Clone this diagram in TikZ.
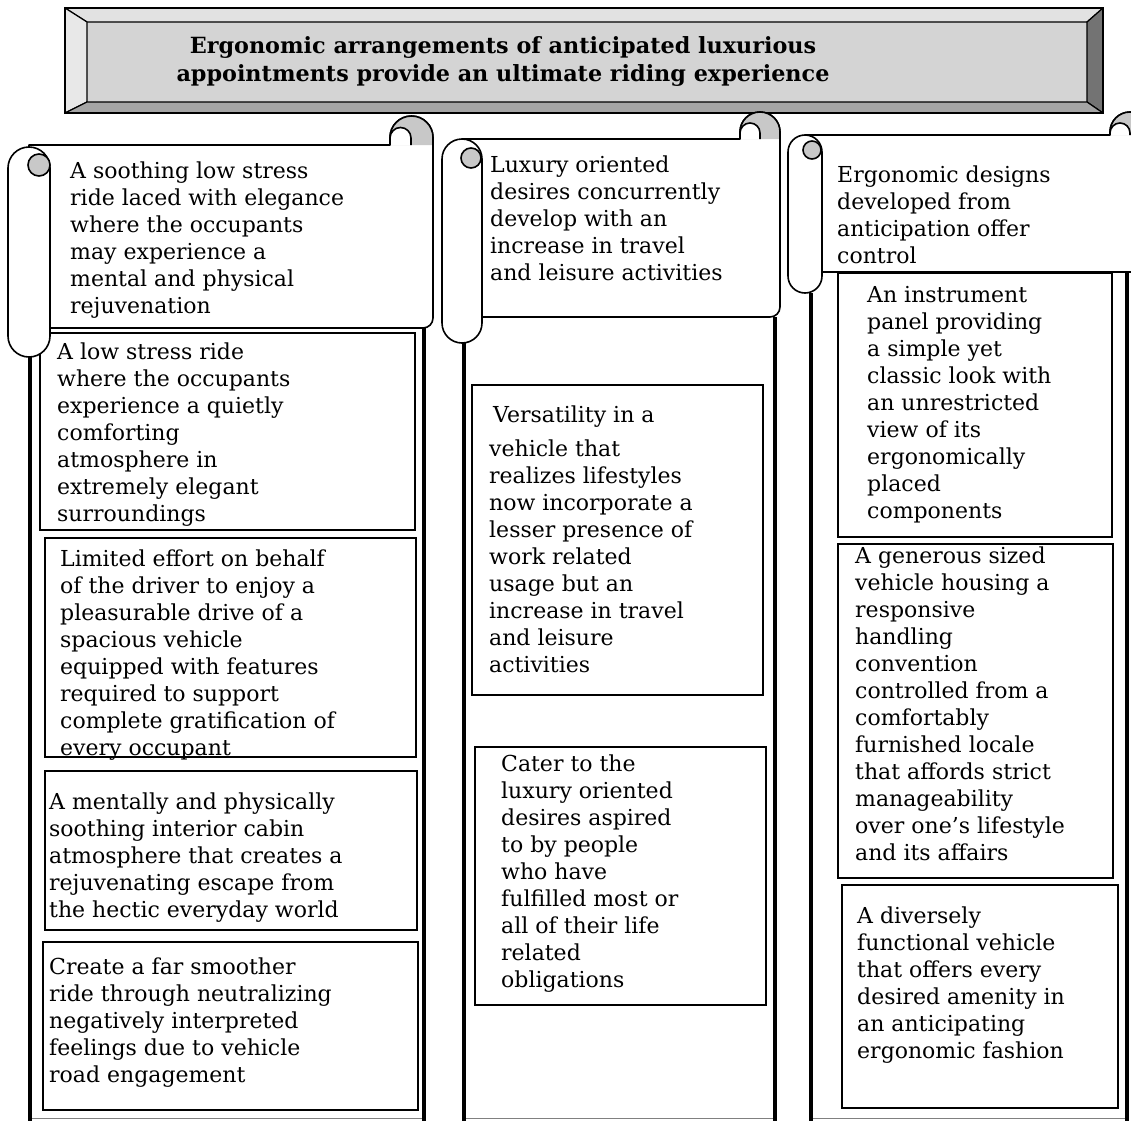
\documentclass[tikz,border=0pt]{standalone}
\usepackage{fontspec}
\setmainfont{DejaVu Serif}
\definecolor{curlgray}{RGB}{200,200,200}
\definecolor{faceg}{RGB}{212,212,212}
\definecolor{bevtop}{RGB}{226,226,226}
\definecolor{bevleft}{RGB}{232,232,232}
\definecolor{bevbot}{RGB}{165,165,165}
\definecolor{bevright}{RGB}{115,115,115}
\newcommand\bodyfnt{\fontsize{22}{27}\selectfont}
\newcommand\titlefnt{\fontsize{22.3}{28}\selectfont\bfseries}
\newcommand\fl{\rule{0pt}{20pt}}
\begin{document}
\begin{tikzpicture}[x=1pt,y=-1pt,
  scrollline/.style={line width=1.6pt, line join=round},
  frameline/.style={line width=3.6pt},
  itembox/.style={draw, line width=1.6pt},
  txt/.style={anchor=north west, inner sep=0pt, align=left, font=\bodyfnt},
  bev/.style={draw, line width=1.2pt, line join=round}]
\useasboundingbox (0,0) rectangle (1131,1120);

% ---- title banner ----
\fill[faceg] (87,22) rectangle (1087,102);
\filldraw[bev, fill=bevtop] (65,8) -- (1103,8) -- (1087,22) -- (87,22) -- cycle;
\filldraw[bev, fill=bevleft] (65,8) -- (87,22) -- (87,102) -- (65,113) -- cycle;
\filldraw[bev, fill=bevright] (1103,8) -- (1103,113) -- (1087,102) -- (1087,22) -- cycle;
\filldraw[bev, fill=bevbot] (65,113) -- (87,102) -- (1087,102) -- (1103,113) -- cycle;
\draw[line width=1.4pt] (65,8) rectangle (1103,113);
\node[anchor=north, inner sep=0pt, align=center, font=\titlefnt] (title) at (503,33)
  {\fl Ergonomic arrangements of anticipated luxurious\\appointments provide an ultimate riding experience};

% ---- frames ----
\draw[gray, line width=1pt] (30,1118) -- (424,1118);
\draw[gray, line width=1pt] (464,1118) -- (775,1118);
\draw[gray, line width=1pt] (811,1118) -- (1127,1118);
\draw[frameline] (30,357) -- (30,1122);
\draw[frameline] (424,328) -- (424,1122);
\draw[frameline] (464,343) -- (464,1122);
\draw[frameline] (775,317) -- (775,1122);
\draw[frameline] (811,293) -- (811,1122);
\draw[frameline] (1127,272) -- (1127,1122);

% ---- item boxes ----
\draw[itembox] (40,333) rectangle (415,530);
\draw[itembox] (45,538) rectangle (416,757);
\draw[itembox] (45,771) rectangle (417,930);
\draw[itembox] (43,942) rectangle (418,1110);
\draw[itembox] (472,385) rectangle (763,695);
\draw[itembox] (475,747) rectangle (766,1005);
\draw[itembox] (838,273) rectangle (1112,537);
\draw[itembox] (838,544) rectangle (1113,878);
\draw[itembox] (842,885) rectangle (1118,1108);

% ---- scroll 1 ----
\draw[scrollline, fill=white] (29,145) -- (390,145) -- (390,137.5)
  arc[start angle=180, end angle=360, radius=21.5] [rounded corners=10pt] -- (433,328) -- (29,328) [sharp corners] -- cycle;
\fill[curlgray] (390,145) -- (390,137.5) arc[start angle=180, end angle=360, radius=21.5] -- (433,145) -- cycle;
\draw[scrollline] (390,145) -- (390,137.5) arc[start angle=180, end angle=360, radius=21.5] -- (433,146);
\draw[scrollline, fill=white] (390,145) -- (390,138) arc[start angle=180, end angle=360, radius=10.5] -- (411,145);
\draw[scrollline, fill=white] (50,168) -- (50,336) arc[start angle=0, end angle=180, radius=21] -- (8,168)
  arc[start angle=180, end angle=360, radius=21] -- cycle;
\draw[scrollline, fill=curlgray] (39,165) circle[radius=11];

% ---- scroll 2 ----
\draw[scrollline, fill=white] (462,139) -- (740,139) -- (740,132)
  arc[start angle=180, end angle=360, radius=20] [rounded corners=10pt] -- (780,317) -- (462,317) [sharp corners] -- cycle;
\fill[curlgray] (740,139) -- (740,132) arc[start angle=180, end angle=360, radius=20] -- (780,139) -- cycle;
\draw[scrollline] (740,139) -- (740,132) arc[start angle=180, end angle=360, radius=20] -- (780,140);
\draw[scrollline, fill=white] (740,139) -- (740,133) arc[start angle=180, end angle=360, radius=10] -- (760,139);
\draw[scrollline, fill=white] (482,159) -- (482,323) arc[start angle=0, end angle=180, radius=20] -- (442,159)
  arc[start angle=180, end angle=360, radius=20] -- cycle;
\draw[scrollline, fill=curlgray] (471,158) circle[radius=10];

% ---- scroll 3 ----
\draw[scrollline, fill=white] (805,135) -- (1110,135) -- (1110,132)
  arc[start angle=180, end angle=360, radius=20] [rounded corners=10pt] -- (1150,272) -- (805,272) [sharp corners] -- cycle;
\fill[curlgray] (1110,135) -- (1110,132) arc[start angle=180, end angle=360, radius=20] -- (1150,135) -- cycle;
\draw[scrollline] (1110,135) -- (1110,132) arc[start angle=180, end angle=360, radius=20] -- (1150,136);
\draw[scrollline, fill=white] (1110,135) -- (1110,133) arc[start angle=180, end angle=360, radius=10] -- (1130,135);
\draw[scrollline, fill=white] (822,152) -- (822,276) arc[start angle=0, end angle=180, radius=17] -- (788,152)
  arc[start angle=180, end angle=360, radius=17] -- cycle;
\draw[scrollline, fill=curlgray] (812,150) circle[radius=9];

% ---- texts ----
\node[txt] (h1) at (70,158) {\fl A soothing low stress\\ride laced with elegance\\where the occupants\\may experience a\\mental and physical\\rejuvenation};
\node[txt] (a1) at (57,339) {\fl A low stress ride\\where the occupants\\experience a quietly\\comforting\\atmosphere in\\extremely elegant\\surroundings};
\node[txt] (a2) at (60,546) {\fl Limited effort on behalf\\of the driver to enjoy a\\pleasurable drive of a\\spacious vehicle\\equipped with features\\required to support\\complete gratification of\\every occupant};
\node[txt] (a3) at (49,789) {\fl A mentally and physically\\soothing interior cabin\\atmosphere that creates a\\rejuvenating escape from\\the hectic everyday world};
\node[txt] (a4) at (49,954) {\fl Create a far smoother\\ride through neutralizing\\negatively interpreted\\feelings due to vehicle\\road engagement};

\node[txt] (h2) at (490,152) {\fl Luxury oriented\\desires concurrently\\develop with an\\increase in travel\\and leisure activities};
\node[txt] (b1) at (489,402) {\fl\hspace*{4pt}Versatility in a\\[7pt]vehicle that\\realizes lifestyles\\now incorporate a\\lesser presence of\\work related\\usage but an\\increase in travel\\and leisure\\activities};
\node[txt] (b2) at (501,751) {\fl Cater to the\\luxury oriented\\desires aspired\\to by people\\who have\\fulfilled most or\\all of their life\\related\\obligations};

\node[txt] (h3) at (837,162) {\fl Ergonomic designs\\developed from\\anticipation offer\\control};
\node[txt] (c1) at (867,282) {\fl An instrument\\panel providing\\a simple yet\\classic look with\\an unrestricted\\view of its\\ergonomically\\placed\\components};
\node[txt] (c2) at (855,543) {\fl A generous sized\\vehicle housing a\\responsive\\handling\\convention\\controlled from a\\comfortably\\furnished locale\\that affords strict\\manageability\\over one’s lifestyle\\and its affairs};
\node[txt] (c3) at (857,903) {\fl A diversely\\functional vehicle\\that offers every\\desired amenity in\\an anticipating\\ergonomic fashion};
\end{tikzpicture}
\end{document}
